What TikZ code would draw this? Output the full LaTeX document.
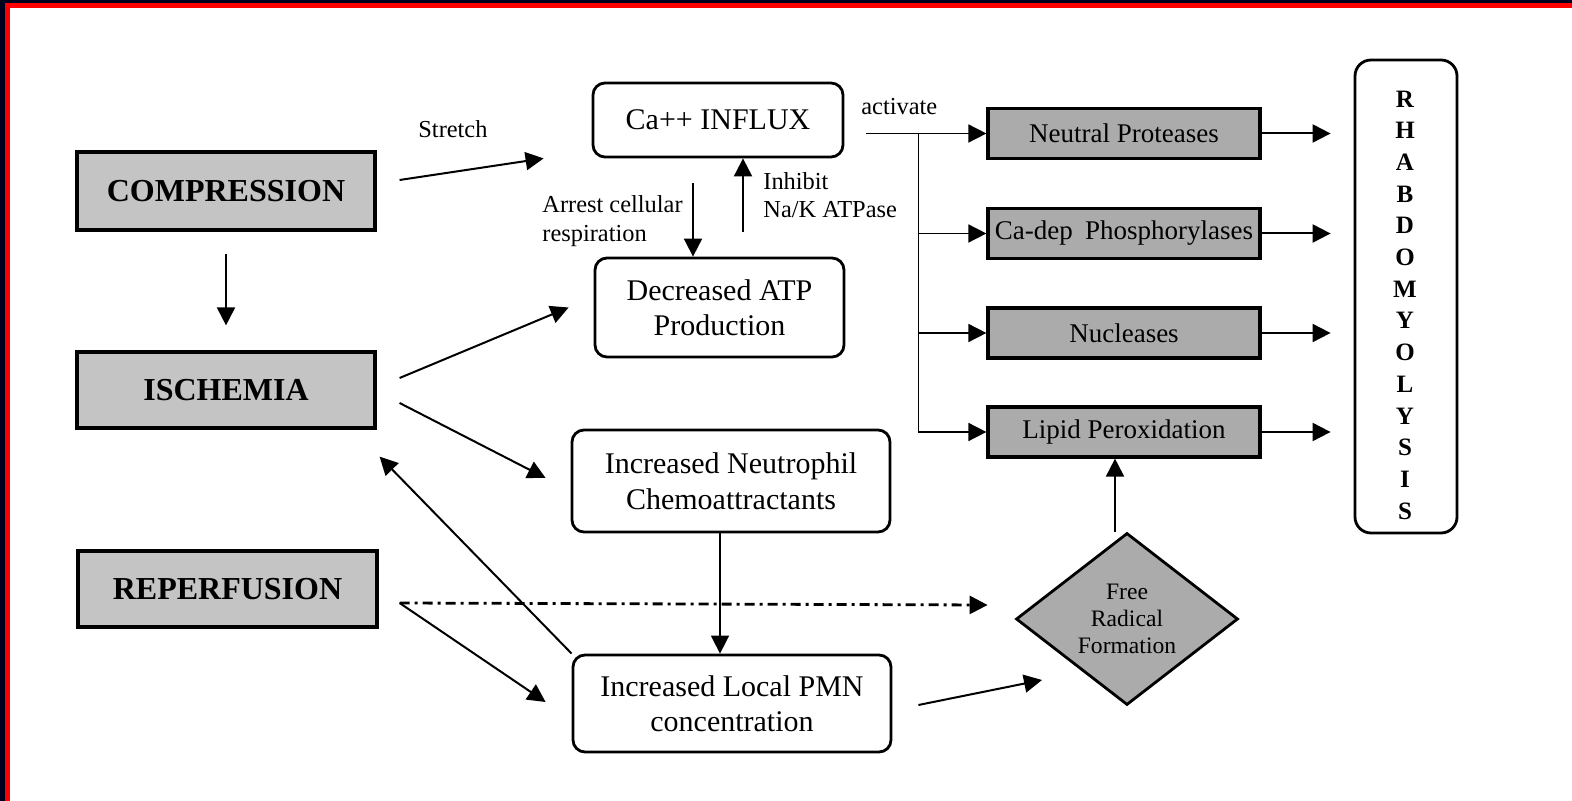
\documentclass[tikz,border=0pt]{standalone}
\usepackage{fontspec}
\setmainfont{Liberation Serif}
\usetikzlibrary{arrows.meta,calc,shapes.geometric}
\definecolor{navyb}{HTML}{00001E}
\definecolor{redb}{HTML}{FF0000}
\definecolor{lgray}{HTML}{C4C4C4}
\definecolor{dgray}{HTML}{ABABAB}
\begin{document}
\begin{tikzpicture}[x=0.5pt,y=-0.5pt,
 gbox/.style={draw=black, line width=1.6pt, fill=lgray, font=\fontsize{16}{19}\selectfont\bfseries, inner sep=0pt},
 rbox/.style={draw=black, line width=1.4pt, rounded corners=6pt, fill=white, align=center, font=\fontsize{15}{17.75}\selectfont, inner sep=0pt},
 ebox/.style={draw=black, line width=1.6pt, fill=dgray, font=\fontsize{13.5}{16}\selectfont, inner sep=0pt, minimum width=136pt, minimum height=25pt},
 lbl/.style={font=\fontsize{12.2}{14.5}\selectfont, inner sep=0pt, anchor=base west},
 arr/.style={-{Triangle[length=9pt,width=9pt]}, line width=1pt},
 thin arr/.style={-{Triangle[length=9pt,width=9pt]}, line width=0.8pt},
]
\useasboundingbox (0,0) rectangle (1572,801);
\fill[white] (0,0) rectangle (1572,801);
% frame
\fill[navyb] (0,0) rectangle (1572,3);
\fill[navyb] (0,0) rectangle (5,801);
\fill[redb] (5,3) rectangle (1572,8);
\fill[redb] (5,3) rectangle (10,801);

% left boxes
\node[gbox, minimum width=149pt, minimum height=39pt] (comp) at (226,191) {COMPRESSION};
\node[gbox, minimum width=149pt, minimum height=38pt] (isch) at (226,390) {ISCHEMIA};
\node[gbox, minimum width=149.5pt, minimum height=38pt] (rep) at (227.5,589) {REPERFUSION};

% middle boxes
\node[rbox, minimum width=125pt, minimum height=37pt] (ca) at (718,120) {Ca++ INFLUX};
\node[rbox, minimum width=124.5pt, minimum height=49.5pt] (atp) at (719.5,307.5) {Decreased ATP\\Production};
\node[rbox, minimum width=159pt, minimum height=51pt] (neu) at (731,481) {Increased Neutrophil\\Chemoattractants};
\node[rbox, minimum width=159pt, minimum height=48.5pt] (pmn) at (732,703.5) {Increased Local PMN\\concentration};

% right boxes
\node[ebox] (np) at (1124,133.5) {Neutral Proteases};
\node[ebox] (cd) at (1124,233.5) {Ca-dep\hspace{0.45em}Phosphorylases};
\node[ebox] (nu) at (1124,333) {Nucleases};
\node[ebox] (lp) at (1124,432) {Lipid Peroxidation};

% diamond
\node[diamond, draw=black, line width=1.4pt, fill=dgray, minimum width=111pt, minimum height=86pt, inner sep=0pt, aspect=1.3, align=center, font=\fontsize{11.8}{13.5}\selectfont] (fr) at (1127,619) {Free\\Radical\\Formation};

% rhabdomyolysis
\node[draw=black, line width=1.4pt, rounded corners=8pt, minimum width=51pt, minimum height=236.5pt, inner sep=0pt] (rhab) at (1406,296.5) {};
\node[align=center, font=\fontsize{12.5}{15.85}\selectfont\bfseries, inner sep=0pt] (rtext) at (1405,305) {R\\H\\A\\B\\D\\O\\M\\Y\\O\\L\\Y\\S\\I\\S};

% labels
\node[lbl] (stretch) at (418,138) {Stretch};
\node[lbl] (arr1) at (542,213) {Arrest cellular};
\node[lbl] (arr2) at (542,242) {respiration};
\node[lbl] (inh1) at (763,190) {Inhibit};
\node[lbl] (inh2) at (763,218) {Na/K ATPase};
\node[lbl] (act) at (861,115) {activate};

% connectors
\draw[arr] ($(comp.south)+(0,22)$) -- ($(isch.north)+(0,-25)$);
\draw[arr] ($(comp.east)+(23,-11)$) -- ($(ca.south west)+(-48,0)$);
\draw[arr] ($(isch.east)+(23,-12)$) -- ($(atp.west)+(-25,0)$);
\draw[arr] ($(isch.east)+(23,13)$) -- ($(neu.west)+(-25,-3)$);
\draw[arr] (pmn.north west) -- ($(isch.south east)+(3,27)$);
\coordinate (rs) at ($(rep.east)+(21,14)$);
\draw[arr] (rs) -- ($(pmn.west)+(-26,-1.5)$);
\draw[-{Triangle[length=9pt,width=9pt]}, line width=1.4pt, dash pattern=on 5pt off 2.5pt on 1.5pt off 2.5pt] (rs) -- ($(fr.west)+(-27,-14)$);
\draw[thin arr] ($(neu.south)+(-11,0)$) -- ($(pmn.north)+(-12,0)$);
\draw[arr] ($(pmn.east)+(26,1.5)$) -- ($(fr.center)+(-85,61)$);
\draw[arr] ($(fr.north)+(-12,0)$) -- ($(lp.south)+(-9,0)$);

\draw[arr] ($(ca.south)+(-25,25)$) -- ($(atp.north)+(-26.5,0)$);
\draw[arr] ($(atp.north)+(23.5,-25)$) -- ($(ca.south)+(25,0)$);

% activate branches
\coordinate (a0) at ($(ca.east)+(22,0)$);
\coordinate (a1) at (a0 |- np.west);
\coordinate (br) at ($(a1)+(52,0)$);
\draw[thin arr] (a1) -- (np.west);
\draw[thin arr] (br) |- (cd.west);
\draw[thin arr] (br) |- (nu.west);
\draw[thin arr] (br) |- (lp.west);

% outputs
\draw[arr] (np.east) -- ($(np.east -| rhab.west)+(-23,0)$);
\draw[arr] (cd.east) -- ($(cd.east -| rhab.west)+(-23,0)$);
\draw[arr] (nu.east) -- ($(nu.east -| rhab.west)+(-23,0)$);
\draw[arr] (lp.east) -- ($(lp.east -| rhab.west)+(-23,0)$);
\end{tikzpicture}
\end{document}
